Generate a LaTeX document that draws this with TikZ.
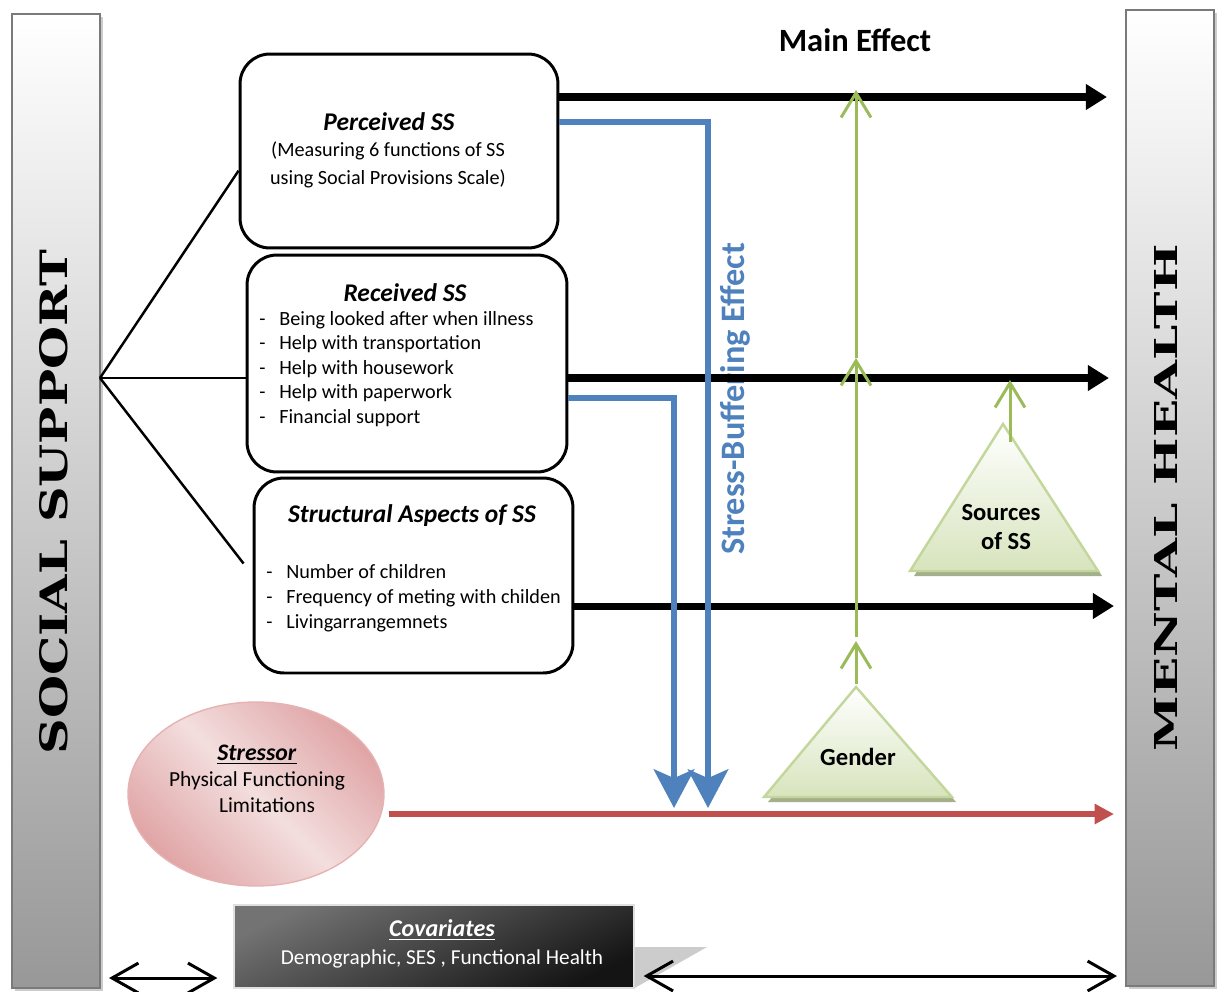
\documentclass[tikz,border=0pt]{standalone}
\usepackage{fontspec}
\setmainfont{Carlito}
\newfontfamily\barfont{DejaVu Serif}
\usetikzlibrary{arrows.meta,shapes.geometric,shadows,calc}
\definecolor{ssblue}{HTML}{4F81BD}
\definecolor{ssred}{HTML}{C0504D}
\definecolor{ssgreen}{HTML}{9BBB59}
\definecolor{greenfill}{HTML}{D7E4BD}
\definecolor{greenline}{HTML}{C3D69B}
\definecolor{greenshade}{HTML}{A4B08C}
\definecolor{pinkdark}{HTML}{E0A5A6}
\definecolor{pinklight}{HTML}{F3DEDE}
\definecolor{pinkline}{HTML}{E6B2B2}
\definecolor{bargray}{HTML}{989898}
\definecolor{barline}{HTML}{7A7A7A}
\newcommand{\ssitem}[1]{\makebox[0.4cm][l]{-}#1}
\tikzset{
    side-bar/.style = {draw=barline, line width=1.2pt, top color=white, bottom color=bargray, minimum width=1.76cm,
        drop shadow={shadow xshift=1.5pt, shadow yshift=-1.5pt, fill=black!40, opacity=0.5}},
    bar-label/.style = {rotate=90, font=\barfont\bfseries, inner sep=0pt},
    ss-box/.style = {draw, line width=1.7pt, fill=white, rounded corners=17pt},
    box-title/.style = {font=\fontsize{14.5}{16}\selectfont\bfseries\itshape, inner sep=0pt},
    box-text/.style = {font=\fontsize{11.5}{13.9}\selectfont, inner sep=0pt},
    branch/.style = {line width=1.4pt},
    effect-label/.style = {font=\fontsize{18.5}{21}\selectfont\bfseries, inner sep=0pt},
    main-arrow/.style = {line width=4pt, -{Triangle[length=12pt,width=14pt]}},
    buffer-arrow/.style = {draw=ssblue, line width=3.4pt, -{Stealth[length=22pt,width=23pt,inset=5pt]}},
    stress-arrow/.style = {draw=ssred, line width=3.4pt, -{Triangle[length=11pt,width=11pt]}},
    green-arrow/.style = {draw=ssgreen, line width=1.7pt, -{Straight Barb[length=14pt,width=17pt]}},
    both-arrow/.style = {line width=1.7pt, {Straight Barb[length=15pt,width=17pt]}-{Straight Barb[length=15pt,width=17pt]}},
    mod-triangle/.style = {draw=greenline, line width=1.4pt, top color=white, bottom color=greenfill},
    mod-label/.style = {font=\fontsize{14}{16}\selectfont\bfseries, inner sep=0pt, align=center},
    stressor-ellipse/.style = {ellipse, draw=pinkline, line width=0.8pt, top color=pinkdark, bottom color=pinkdark, middle color=pinklight, shading angle=-45},
    covar-box/.style = {draw=black!12, line width=0.8pt, top color=black!55, bottom color=black!92, shading angle=25},
}

\begin{document}
\begin{tikzpicture}[x=0.02cm, y=-0.02cm]
\useasboundingbox (0,0) rectangle (1222,991);

\node[side-bar, minimum height=19.48cm] (social) at (56,501) {};
\node[bar-label] (social-label) at (54,502) {\resizebox{10.1cm}{0.56cm}{SOCIAL SUPPORT}};
\node[side-bar, minimum height=19.52cm] (mental) at (1170,498) {};
\node[bar-label] (mental-label) at (1166,498) {\resizebox{10.14cm}{0.46cm}{MENTAL HEALTH}};

\node[ss-box, minimum width=6.36cm, minimum height=3.88cm] (perceived) at (399,151) {};
\node[box-title] (perceived-title) at (389,122) {Perceived SS};
\node[box-text, align=center, font=\fontsize{11.5}{15.9}\selectfont] (perceived-text) at (388,165)
    {(Measuring 6 functions of SS\\using Social Provisions Scale)};

\node[ss-box, minimum width=6.4cm, minimum height=4.34cm] (received) at (407,363.5) {};
\node[box-title] (received-title) at (405,293) {Received SS};
\node[box-text, align=left, anchor=north west] (received-list) at (259,311)
    {\ssitem{Being looked after when illness}\\\ssitem{Help with transportation}\\\ssitem{Help with housework}\\
     \ssitem{Help with paperwork}\\\ssitem{Financial support}};

\node[ss-box, minimum width=6.38cm, minimum height=3.9cm] (structural) at (413.5,575.5) {};
\node[box-title] (structural-title) at (412,516) {Structural Aspects of SS};
\node[box-text, align=left, anchor=north west, font=\fontsize{11.5}{14.2}\selectfont] (structural-list) at (266,564)
    {\ssitem{Number of children}\\\ssitem{Frequency of meting with childen}\\\ssitem{Livingarrangemnets}};

\coordinate (hub) at (100,378);
\draw[branch] (hub) -- (perceived.187);
\draw[branch] (hub) -- (hub -| received.west);
\draw[branch] (hub) -- ($(structural.west)+(-9,-12)$);

\node[effect-label] (main-label) at (855,40) {Main Effect};
\node[effect-label, text=ssblue, font=\fontsize{19.5}{22}\selectfont\bfseries, rotate=90] (buffer-label) at (735,399) {Stress-Buffering Effect};

\draw[main-arrow, shorten >=0.36cm] (perceived.east |- 0,97) -- (mental.west |- 0,97);
\draw[main-arrow, shorten >=0.32cm] (received.east |- 0,378) -- (mental.west |- 0,378);
\draw[main-arrow, shorten >=0.22cm] (structural.east |- 0,606) -- (mental.west |- 0,606);

\coordinate (buffer-tip-a) at (708,808);
\coordinate (buffer-tip-b) at (674,808);
\draw[buffer-arrow] (perceived.east |- 0,122) -| (buffer-tip-a);
\draw[buffer-arrow] (received.east |- 0,398) -| (buffer-tip-b);

\fill[greenshade] (768,802) -- (860,692) -- (956,802) -- cycle;
\draw[mod-triangle] (764,797) -- (856,687) -- (952,797) -- cycle;
\node[mod-label] (gender) at (858,757) {Gender};
\fill[greenshade] (914,576) -- (1007,429) -- (1102,576) -- cycle;
\draw[mod-triangle] (910,571) -- (1003,424) -- (1098,571) -- cycle;
\node[mod-label] (sources) at (1001,527) {Sources\\\hspace*{0.2cm}of SS};

\coordinate (gender-top) at (856,684);
\coordinate (gender-tip) at (856,641);
\coordinate (mod-low) at (856,637);
\coordinate (mod-mid) at (856,358);
\coordinate (mod-top) at (856,90);
\coordinate (sources-top) at (1010,442);
\coordinate (sources-tip) at (1010,380);
\draw[green-arrow] (gender-top) -- (gender-tip);
\draw[green-arrow] (mod-low) -- (mod-mid);
\draw[green-arrow] (mod-mid) -- (mod-top);
\draw[green-arrow] (sources-top) -- (sources-tip);

\node[stressor-ellipse, minimum width=5.12cm, minimum height=3.68cm] (stressor) at (256,794) {};
\node[align=center, inner sep=0pt, font=\fontsize{12.2}{14.7}\selectfont] (stressor-text) at (257,779)
    {{\fontsize{13.5}{14.7}\selectfont\underline{\textbf{\textit{Stressor}}}}\\Physical Functioning\\\hspace*{0.4cm}Limitations};
\draw[stress-arrow, shorten <=0.08cm, shorten >=0.22cm] (stressor.east |- 0,814) -- (mental.west |- 0,814);

\node[covar-box, minimum width=8cm, minimum height=1.66cm] (covariates) at (434,946.5) {};
\fill[black!20] (covariates.east |- 0,947) -- (707,947) -- (covariates.east |- 0,988) -- cycle;
\node[align=center, inner sep=0pt, text=white, font=\fontsize{12.1}{15.9}\selectfont] (covariates-text) at (442,944)
    {{\fontsize{13.7}{15.9}\selectfont\underline{\textbf{\textit{Covariates}}}}\\Demographic, SES , Functional Health};

\draw[both-arrow, shorten <=0.16cm, shorten >=0.32cm] (social.east |- 0,978) -- (covariates.west |- 0,978);
\draw[both-arrow, shorten <=0.18cm, shorten >=0.16cm] (covariates.east |- 0,976) -- (mental.west |- 0,976);
\end{tikzpicture}
\end{document}
